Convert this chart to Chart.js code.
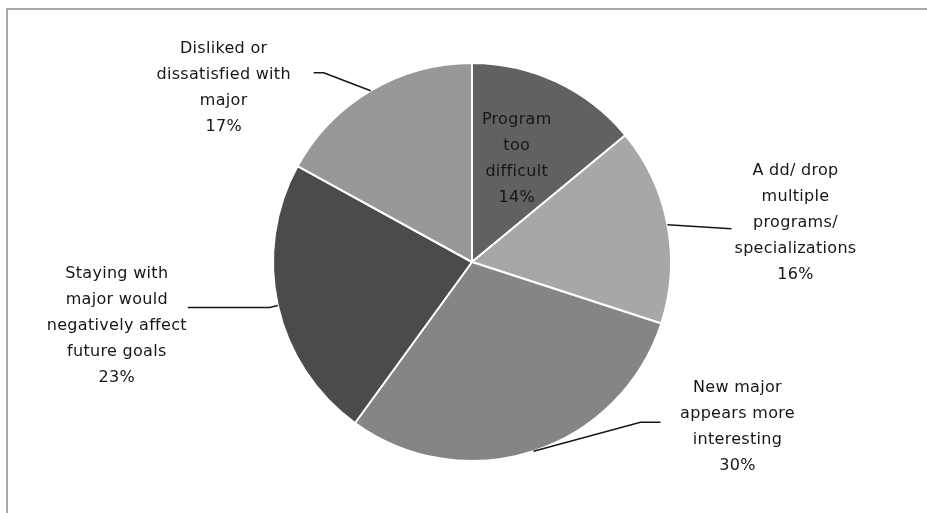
<!DOCTYPE html>
<html>
<head>
<meta charset="utf-8">
<script src="https://cdn.jsdelivr.net/npm/chart.js@4.4.1/dist/chart.umd.min.js"></script>
<style>
  html, body { margin: 0; padding: 0; background: #fff; }
  #frame { position: absolute; left: 6px; top: 8px; width: 940px; height: 540px; border-left: 2px solid #a8a8a8; border-top: 2px solid #a8a8a8; }
  #wrap { position: absolute; left: 0; top: 0; width: 927px; height: 513px; }
</style>
</head>
<body>
<div id="frame"></div>
<div id="wrap"><canvas id="pie"></canvas></div>
<script>
const labels = [
    ['Program', 'too', 'difficult'],
    ['A dd/ drop', 'multiple', 'programs/', 'specializations'],
    ['New major', 'appears more', 'interesting'],
    ['Staying with', 'major would', 'negatively affect', 'future goals'],
    ['Disliked or', 'dissatisfied with', 'major']
]
const values = [14, 16, 30, 23, 17]
const colors = ['#616161', '#a7a7a7', '#858585', '#4b4b4b', '#989898']

// where each label block sits relative to its slice edge point, and its leader line
const label_layout = [
    { dx: -40, dy: 38 },
    { dx: 128, dy: -54, leader: [[64, 4]] },
    { dx: 204, dy: -63, leader: [[107, -29], [127, -29]] },
    { dx: -161, dy: -32, leader: [[-8, 2], [-90, 2]] },
    { dx: -147, dy: -42, leader: [[-47, -18], [-57, -18]] }
]

const label_plugin = {
    id: 'pie_labels',
    afterDatasetsDraw(chart){
        const ctx = chart.ctx
        const meta = chart.getDatasetMeta(0)
        ctx.save()
        ctx.font = '16px "DejaVu Sans", Verdana, sans-serif'
        ctx.letterSpacing = '0.3px'
        ctx.fillStyle = '#161616'
        ctx.strokeStyle = '#161616'
        ctx.lineWidth = 1.5
        ctx.textAlign = 'center'
        ctx.textBaseline = 'middle'
        meta.data.forEach((arc, i) => {
            const mid = (arc.startAngle + arc.endAngle) / 2
            const ex = arc.x + Math.cos(mid) * arc.outerRadius
            const ey = arc.y + Math.sin(mid) * arc.outerRadius
            const lay = label_layout[i]
            if(lay.leader){
                ctx.beginPath()
                ctx.moveTo(ex, ey)
                for(const p of lay.leader) ctx.lineTo(ex + p[0], ey + p[1])
                ctx.stroke()
            }
            const lines = labels[i].concat([values[i] + '%'])
            const lx = ex + lay.dx
            const ly = ey + lay.dy
            lines.forEach((t, k) => ctx.fillText(t, lx, ly + k * 26))
        })
        ctx.restore()
    }
}

new Chart(document.getElementById('pie').getContext('2d'), {
    type: 'pie',
    data: {
        labels: labels.map(l => l.join(' ')),
        datasets: [{
            data: values,
            backgroundColor: colors,
            borderColor: '#ffffff',
            borderWidth: 2
        }]
    },
    options: {
        responsive: true,
        maintainAspectRatio: false,
        animation: false,
        layout: { padding: { left: 100, right: 83, top: 62, bottom: 51 } },
        plugins: {
            legend: { display: false },
            tooltip: { enabled: false }
        }
    },
    plugins: [label_plugin]
})
</script>
</body>
</html>
